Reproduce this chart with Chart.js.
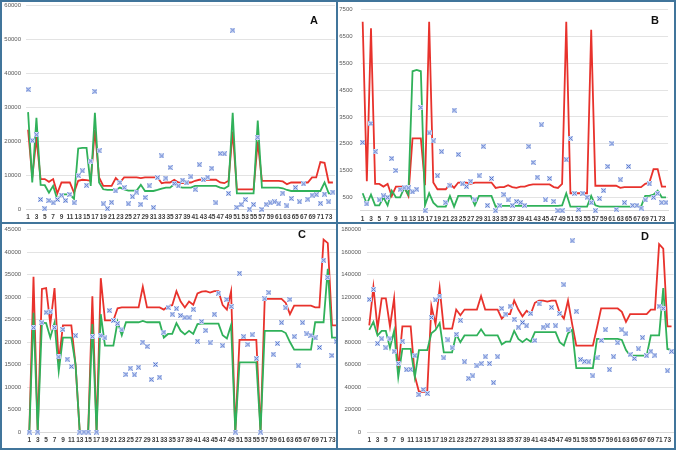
<!DOCTYPE html>
<html>
<head>
<meta charset="utf-8">
<script src="https://cdn.jsdelivr.net/npm/chart.js@4.4.0/dist/chart.umd.min.js"></script>
<style>
  body { margin: 0; background: #fff; }
  #frame { position: relative; width: 676px; height: 450px; overflow: hidden; background: #fff; font-family: "Liberation Sans", Arial, sans-serif; }
  .panel { position: absolute; overflow: hidden; }
  .panel canvas { position: absolute; }
  .tag { position: absolute; font-weight: bold; font-size: 11px; line-height: 11px; color: #111; }
  .rule { position: absolute; background: #41759b; }
</style>
</head>
<body>
<div id="frame">
  <div class="panel" style="left:0;top:0;width:336px;height:222px"><canvas id="cA"></canvas></div>
  <div class="panel" style="left:336px;top:0;width:340px;height:222px"><canvas id="cB"></canvas></div>
  <div class="panel" style="left:0;top:222px;width:336px;height:228px"><canvas id="cC"></canvas></div>
  <div class="panel" style="left:336px;top:222px;width:340px;height:228px"><canvas id="cD"></canvas></div>

  <div class="tag" style="left:310px;top:15px">A</div>
  <div class="tag" style="left:651px;top:15px">B</div>
  <div class="tag" style="left:298px;top:229px">C</div>
  <div class="tag" style="left:641px;top:231px">D</div>

  <!-- frame lines -->
  <div class="rule" style="left:0;top:0;width:676px;height:2px"></div>
  <div class="rule" style="left:0;bottom:0;width:676px;height:2px"></div>
  <div class="rule" style="left:0;top:0;width:2px;height:450px"></div>
  <div class="rule" style="right:0;top:0;width:2px;height:450px"></div>
  <div class="rule" style="left:336px;top:0;width:2px;height:450px"></div>
  <div class="rule" style="left:0;top:222px;width:676px;height:2px"></div>
</div>

<script>
// --- data ---
const categories = ["1","2","3","4","5","6","7","8","9","10","11","12","13","14","15","16","17","18","19","20",
  "21","22","23","24","25","26","27","28","29","30","31","32","33","34","35","36","37","38","39","40",
  "41","42","43","44","45","46","47","48","49","50","51","52","53","54","55","56","57","58","59","60",
  "61","62","63","64","65","66","67","68","69","70","71","72","73","74"];

// panel A
const aUpper = [23500,9500,21000,9000,9000,8200,9000,4800,8000,8000, 8000,5000,8500,8800,8700,8500,23500,9500,7000,7000,
  7000,9300,8000,9500,9500,9500,9500,9300,9500,9500, 9500,9500,7800,8000,8000,8800,8000,7800,8000,8000,
  8500,8800,8800,8800,8800,8800,8000,7800,8500,23000, 6000,6000,6000,6000,6000,20000,8500,8500,8500,8500,
  8500,8300,7500,8000,8000,8000,8000,8000,9500,9500, 14000,13800,8000,8000];
const aLower = [28700,8000,27000,7300,7200,5000,7000,3000,4500,4500, 4500,3200,18000,18200,18200,7000,28500,8000,6000,5800,
  5800,5800,6500,6000,5600,5600,5600,7300,5500,5500, 5500,5800,6200,6500,6500,7500,6700,6500,6500,6500,
  7000,7000,7000,7000,7000,7000,6500,6200,7000,28500, 4800,4800,4800,4800,4800,26200,6500,6500,6500,6500,
  6500,6300,5800,5500,5500,5500,5500,5500,5500,5500, 5500,8000,4800,4800];
const aObserved = [35300,20300,22000,3000,300,2700,2000,3000,4300,2700, 4500,2000,10000,11400,7200,14300,34800,17300,1700,300,
  2200,5500,8000,6500,1700,3800,5200,1600,3600,7000, 600,9400,15800,9300,12400,7700,7000,8700,7900,9700,
  6000,13200,8800,9600,12200,2000,16500,16400,4800,52800, 700,1500,3000,200,1500,21300,100,1600,2000,2300,
  1700,4900,1100,3300,6500,2300,7600,3100,4300,4400, 1900,4600,2300,5200];
const aTicks = [0,10000,20000,30000,40000,50000,60000];

// panel B
const bUpper = [7050,1100,6800,1000,1000,900,1000,550,900,900, 900,550,2700,2700,2700,950,7050,1050,800,800,
  800,1000,850,1050,1050,1050,1000,1050,1050,1050, 1050,1050,850,880,880,950,880,850,900,900,
  950,980,980,980,980,980,880,850,1000,7050, 650,650,650,650,650,6750,930,930,930,930,
  930,930,850,880,880,880,880,880,1000,1050, 1550,1550,900,900];
const bLower = [650,250,600,200,200,500,200,750,500,500, 850,600,5200,5250,5200,200,650,300,150,150,
  150,550,150,550,550,550,550,200,550,550, 550,550,150,180,180,180,180,180,180,180,
  180,180,180,180,180,180,180,180,200,650, 150,150,150,150,150,550,200,150,150,150,
  150,150,150,150,150,150,150,150,550,550, 600,750,500,500];
const bObserved = [2550,250,3250,2200,400,550,500,1950,1500,800, 850,850,700,800,3850,0,2900,2600,1300,2200,
  300,950,3750,2100,1000,900,1100,400,1300,2400, 200,1200,0,200,600,400,200,350,300,200,
  2400,1800,1250,3200,400,1200,350,0,0,1900, 2700,650,50,650,500,300,0,450,750,1650,
  2500,50,1150,300,1650,200,200,100,400,1000, 500,650,300,300];
const bTicks = [500,1500,2500,3500,4500,5500,6500,7500];

// panel C
const cUpper = [0,34500,0,31800,32000,24000,32000,15500,23700,23700, 23700,15000,0,0,0,30200,0,34200,24800,24800,
  24800,27500,27700,27700,27700,27700,27700,32300,27700,27700, 27700,27700,27200,28000,28200,31300,29000,27700,29000,28300,
  30800,31200,31300,31000,31300,31300,28200,27200,31300,0, 20500,20500,20500,20500,20500,0,29600,29600,29600,29600,
  29600,28700,26200,28100,28100,28100,28100,28100,27700,27700, 42800,42000,23700,23700];
const cLower = [0,26500,0,24300,24200,21000,24300,13500,21000,21000, 21000,15000,0,0,0,24000,0,26200,19200,19200,
  19200,24500,21500,24400,24400,24400,24400,24700,24400,24400, 24400,24400,21000,21800,21800,24200,22500,21700,22500,21800,
  24000,24100,24100,24100,24100,24100,21500,20800,23800,0, 15500,15500,15500,15500,15500,0,22500,22500,22500,22500,
  22500,22000,20000,18300,18300,18300,18300,18300,24400,24400, 24400,36300,21000,21000];
const cObserved = [0,23200,0,24300,26600,26700,23200,16700,22800,16200, 14600,21400,0,0,0,21200,0,21400,20900,27000,
  24800,24100,22700,12800,14200,12700,14400,20000,19000,11700, 15000,12200,22200,27700,26200,27400,25900,25400,25400,27300,
  20200,24600,22600,19800,26200,30900,19200,29500,27900,0, 35300,21200,19500,21600,16300,0,29600,31000,17300,19700,
  24300,27600,29500,21200,14700,24300,21800,21500,20900,18800, 38200,34400,17000,20100];
const cTicks = [0,5000,10000,15000,20000,25000,30000,35000,40000,45000];

// panel D
const dUpper = [95000,129000,92000,119000,119000,94000,119000,55000,94000,94000, 94000,50000,36000,36000,36000,112000,96000,128000,92000,92000,
  92000,109000,104000,109000,109000,109000,109000,121000,109000,109000, 109000,109000,101000,105000,105000,117000,109000,103000,108000,105000,
  115000,117000,117000,116000,117000,117000,106000,101000,117000,96000, 77000,77000,77000,77000,77000,93000,110000,110000,110000,110000,
  110000,107000,98000,105000,105000,105000,105000,105000,109000,109000, 167000,163000,94000,94000];
const dLower = [91000,98000,86000,90000,90000,75000,90000,49000,74000,74000, 74000,49000,73000,73000,73000,88000,91000,97000,71000,71000,
  71000,87000,80000,86000,86000,86000,86000,91500,86000,86000, 86000,86000,78000,80500,80500,90000,83000,80000,83000,80500,
  89000,89000,89000,89000,89000,89000,80000,77000,88000,91000, 57000,57000,57000,57000,57000,83000,83000,83000,83000,83000,
  83000,82000,73000,68000,68000,68000,68000,68000,86000,86000, 86000,128000,74000,73000];
const dObserved = [118000,127000,79000,83000,75000,83000,72000,61000,81000,55500, 56000,68000,33500,38000,34500,102000,117500,121000,66000,82000,
  75000,87000,99500,62500,48000,50000,59000,61000,67000,61000, 44000,67000,110000,105000,112000,100500,93500,97500,94500,105500,
  81500,114000,93500,94500,111000,94500,105500,131000,91000,170000, 107500,64500,63000,62500,50000,66000,81500,91000,55500,67000,
  79500,91000,87500,69000,65500,74000,84000,68000,72000,68500, 112000,110000,54500,72000];
const dTicks = [0,20000,40000,60000,80000,100000,120000,140000,160000,180000];

// --- marker: blue x on a pale square ---
function makeMark() {
    const c = document.createElement("canvas");
    c.width = 5; c.height = 5;
    const g = c.getContext("2d");
    g.fillStyle = "#d3ddf4";
    g.fillRect(0, 0, 5, 5);
    g.strokeStyle = "#4a6ccc";
    g.lineWidth = 1;
    g.beginPath();
    g.moveTo(0.5, 0.5); g.lineTo(4.5, 4.5);
    g.moveTo(4.5, 0.5); g.lineTo(0.5, 4.5);
    g.stroke();
    return c;
}
const mark = makeMark();

// area = wanted plot box inside the panel (px)
function drawPanel(id, area, upper, lower, observed, ticks, yMin, yMax, xPad, yPad) {
    const canvas = document.getElementById(id);
    const top = Math.floor(area.top) - 8;
    const W = Math.ceil(area.right) + 2;
    const H = Math.ceil(area.bottom) + 18 - top;
    canvas.width = W;
    canvas.height = H;
    canvas.style.left = "0px";
    canvas.style.top = top + "px";
    const xHeight = H - (area.bottom - top);

    new Chart(canvas, {
        type: "line",
        data: {
            labels: categories,
            datasets: [
                { data: observed, showLine: false, pointStyle: mark, pointRadius: 3, clip: false },
                { data: lower, borderColor: "#30b15a", borderWidth: 1.8, pointRadius: 0, tension: 0, clip: false },
                { data: upper, borderColor: "#e8322c", borderWidth: 1.8, pointRadius: 0, tension: 0, clip: false }
            ]
        },
        options: {
            responsive: false,
            animation: false,
            events: [],
            layout: {
                autoPadding: false,
                padding: { top: area.top - top, right: W - area.right, left: 0, bottom: 0 }
            },
            plugins: { legend: { display: false }, tooltip: { enabled: false } },
            scales: {
                x: {
                    offset: true,
                    grid: { display: false, drawTicks: false },
                    border: { display: true, color: "#d9d9d9" },
                    ticks: {
                        autoSkip: false, maxRotation: 0, padding: xPad,
                        font: { size: 6.5, weight: "bold" }, color: "#404040",
                        callback(v, i) { return i % 2 === 0 ? this.getLabelForValue(v) : ""; }
                    },
                    afterFit(s) { s.height = xHeight; }
                },
                y: {
                    min: yMin, max: yMax,
                    afterBuildTicks(s) { s.ticks = ticks.map(v => ({ value: v })); },
                    grid: { color: "#e3e3e3", drawTicks: false },
                    border: { display: false },
                    ticks: { padding: yPad, font: { size: 6 }, color: "#595959", callback: v => String(v) },
                    afterFit(s) { s.width = area.left; }
                }
            }
        }
    });
}

drawPanel("cA", { left: 26, right: 335, top: 5, bottom: 209.7 }, aUpper, aLower, aObserved, aTicks, 0, 60000, 4, 5);
drawPanel("cB", { left: 24.6, right: 333, top: 6.7, bottom: 210.7 }, bUpper, bLower, bObserved, bTicks, 0, 7500, 5, 8);
drawPanel("cC", { left: 27.2, right: 338.3, top: 6.7, bottom: 210 }, cUpper, cLower, cObserved, cTicks, 0, 45000, 4, 6);
drawPanel("cD", { left: 31.2, right: 337.6, top: 6.7, bottom: 210.3 }, dUpper, dLower, dObserved, dTicks, 0, 180000, 4, 6);
</script>
</body>
</html>
